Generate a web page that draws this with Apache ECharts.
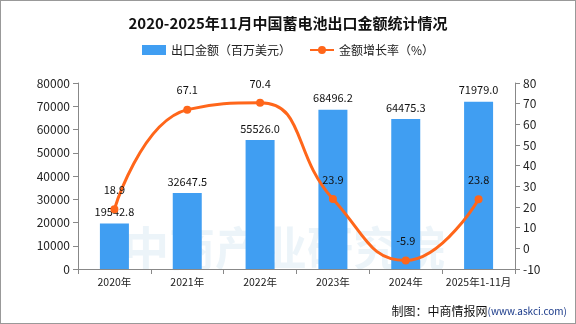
<!DOCTYPE html>
<html><head><meta charset="utf-8">
<script src="https://cdn.jsdelivr.net/npm/echarts@6/dist/echarts.min.js"></script>
<style>html,body{margin:0;padding:0;background:#fff}#c{width:576px;height:324px;box-sizing:border-box;border:1px solid #999}</style>
</head><body><div id="c"></div>
<script>
var categories = ['2020年','2021年','2022年','2023年','2024年','2025年1-11月'];
var exportValue = [19542.8, 32647.5, 55526.0, 68496.2, 64475.3, 71979.0];
var growthRate = [18.9, 67.1, 70.4, 23.9, -5.9, 23.8];
var leftTicks = {min: 0, max: 80000, interval: 10000};
var rightTicks = {min: -10, max: 80, interval: 10};

var chart = echarts.init(document.getElementById('c'));
var font = '"Noto Sans CJK SC", "DejaVu Sans", sans-serif';
chart.setOption({
  animation: false,
  textStyle: {fontFamily: font},
  title: {text: '2020-2025年11月中国蓄电池出口金额统计情况', left: 'center', top: 10,
    textStyle: {fontSize: 15, fontWeight: 'bold', color: '#111', fontFamily: font}},
  legend: {top: 38, left: 'center', itemWidth: 24, itemHeight: 10, itemGap: 18,
    textStyle: {fontSize: 12, color: '#222'},
    data: [{name: '出口金额（百万美元）', icon: 'rect'}, {name: '金额增长率（%）'}]},
  graphic: [
    {type: 'text', left: 122, top: 224, z: 0, silent: true,
      style: {text: '中商产业研究院', fontSize: 46, fontWeight: 'bold', fill: 'rgba(70,150,200,0.10)', fontFamily: font}},
    {type: 'text', right: 8, bottom: 6,
      style: {text: '{a|制图：中商情报网}{b|(www.askci.com)}', fontFamily: font,
        rich: {a: {fontSize: 12, fill: '#111', fontFamily: font}, b: {fontSize: 10, fill: '#1a3a8a', fontFamily: font}}}}
  ],
  grid: {left: 77, right: 60, top: 82, bottom: 54},
  xAxis: {type: 'category', data: categories,
    axisLine: {lineStyle: {color: '#888'}},
    axisTick: {show: true, alignWithLabel: false, lineStyle: {color: '#888'}},
    axisLabel: {color: '#222', fontSize: 10.5, margin: 8, interval: 0}},
  yAxis: [
    {type: 'value', min: leftTicks.min, max: leftTicks.max, interval: leftTicks.interval,
      splitLine: {show: false},
      axisLine: {show: true, lineStyle: {color: '#888'}},
      axisTick: {show: true, lineStyle: {color: '#888'}},
      axisLabel: {color: '#222', fontSize: 12, formatter: function(v){return String(v);}}},
    {type: 'value', min: rightTicks.min, max: rightTicks.max, interval: rightTicks.interval,
      splitLine: {show: false},
      axisLine: {show: true, lineStyle: {color: '#888'}},
      axisTick: {show: true, lineStyle: {color: '#888'}},
      axisLabel: {color: '#222', fontSize: 12}}
  ],
  series: [
    {name: '出口金额（百万美元）', type: 'bar', data: exportValue, barWidth: 29,
      itemStyle: {color: '#409ef2'},
      label: {show: true, position: 'top', color: '#111', fontSize: 11, distance: 6,
        formatter: function(p){return p.value.toFixed(1);}}},
    {name: '金额增长率（%）', type: 'line', yAxisIndex: 1, data: growthRate, smooth: 0.5,
      symbol: 'circle', symbolSize: 8,
      lineStyle: {color: '#ff661a', width: 3}, itemStyle: {color: '#ff661a'},
      label: {show: true, position: 'top', color: '#111', fontSize: 11, distance: 10,
        formatter: function(p){return p.value.toFixed(1);}}}
  ]
});
</script></body></html>
